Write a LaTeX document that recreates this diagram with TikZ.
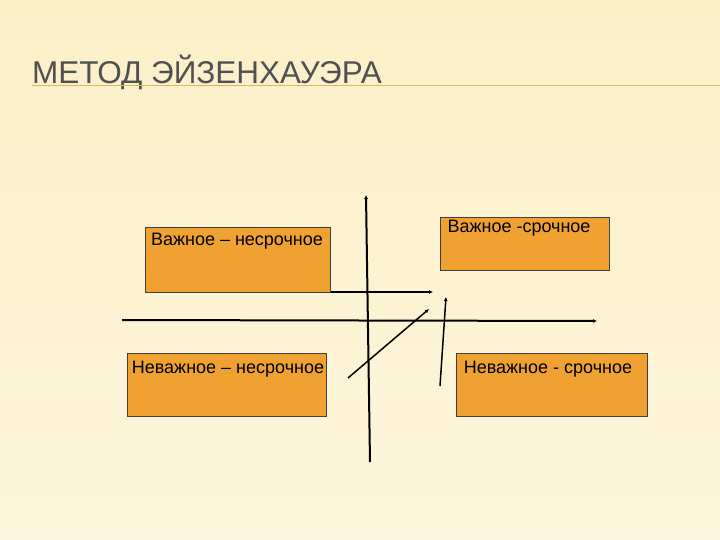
\documentclass[tikz,border=0pt]{standalone}
\usepackage{fontspec}
\setmainfont{Liberation Sans}
\usetikzlibrary{arrows.meta}
\definecolor{bgA}{HTML}{FBEFC8}
\definecolor{bgB}{HTML}{FDF6DC}
\definecolor{boxc}{HTML}{EFA232}
\definecolor{titlec}{HTML}{505050}
\definecolor{rulec}{HTML}{D9B860}
\begin{document}
\begin{tikzpicture}[x=1pt,y=-1pt,
  qbox/.style={draw=black!75,line width=1pt,fill=boxc},
  qtext/.style={font=\fontsize{18}{20}\selectfont,anchor=north,inner sep=0pt},
  ln/.style={line width=1pt,-{Latex[length=4pt,width=4pt]}}]
\useasboundingbox (0,0) rectangle (720,540);
\shade[top color=bgA,bottom color=bgB] (0,0) rectangle (720,540);
\node[anchor=base west,text=titlec,font=\fontsize{31.5}{34}\selectfont,inner sep=0pt] (title) at (32,84) {МЕТОД ЭЙЗЕНХАУЭРА};
\draw[rulec,line width=1pt] (32,86) -- (720,86);
\draw[qbox] (145,228) rectangle (330,292);
\node[qtext] (t1) at (237,233) {Важное – несрочное};
\draw[qbox] (440,218) rectangle (609,270);
\node[qtext] (t2) at (519,220) {Важное -срочное};
\draw[qbox] (127,353) rectangle (326,416);
\node[qtext] (t3) at (228,361) {Неважное – несрочное};
\draw[qbox] (456,353) rectangle (647,416);
\node[qtext] (t4) at (548,361) {Неважное - срочное};
\coordinate (v1) at (370,462); \coordinate (v2) at (366,195);
\coordinate (h1) at (122,320); \coordinate (h2) at (597,321);
\coordinate (s1) at (331,292); \coordinate (s2) at (433,292);
\coordinate (d1) at (348,378); \coordinate (d2) at (429,309);
\coordinate (e1) at (440,386); \coordinate (e2) at (446,297);
\draw[ln,line width=2pt] (v1) -- (v2);
\draw[ln,line width=2pt] (h1) -- (h2);
\draw[ln,line width=1.1pt] (s1) -- (s2);
\draw[ln,line width=1.5pt] (d1) -- (d2);
\draw[ln,line width=1.5pt] (e1) -- (e2);
\end{tikzpicture}
\end{document}
